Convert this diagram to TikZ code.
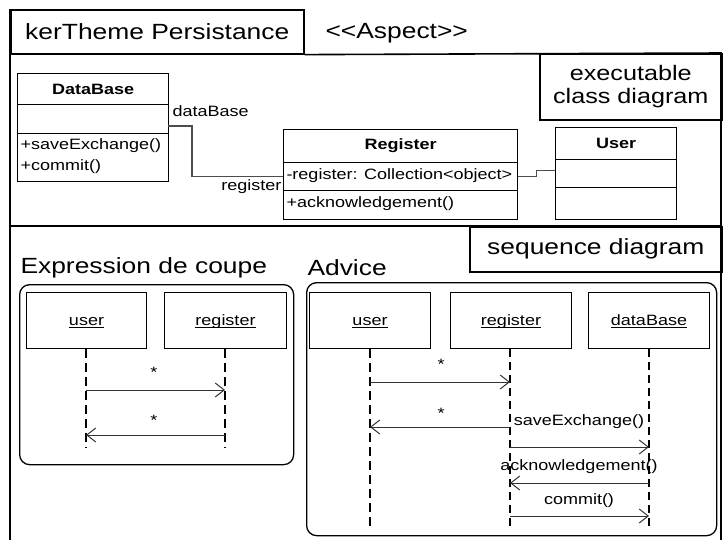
\documentclass[tikz,border=0pt]{standalone}
\usepackage{fontspec}
\setmainfont{Liberation Sans}[FakeStretch=1.2]
\usetikzlibrary{arrows.meta}
\newcommand{\fsz}[1]{\fontsize{#1}{#1}\selectfont}
\newcommand{\uln}[1]{\underline{\smash{#1}}}
\begin{document}
\begin{tikzpicture}[x=1pt,y=-1pt,line width=1pt,
  frameline/.style={line width=1.6pt},
  cbox/.style={draw,line width=1.1pt,anchor=north west,inner sep=0pt,font=\fsz{15}},
  txt/.style={inner sep=0pt,font=\fsz{15}},
  bigtxt/.style={inner sep=0pt,font=\fsz{22}},
  assoc/.style={draw=black!70,line width=1.1pt},
  objbox/.style={draw,line width=1pt,anchor=north west,minimum width=121pt,minimum height=56pt,inner sep=0pt,text height=11pt,text depth=1pt,font=\fsz{15}},
  lifethick/.style={line width=2.4pt,dash pattern=on 9pt off 5pt},
  lifethin/.style={line width=1.3pt,dash pattern=on 8pt off 5pt},
  msg/.style={draw=black!80,line width=1pt,-{Straight Barb[length=9pt,width=14pt]}},
  frag/.style={draw,line width=1.3pt,rounded corners=10pt}]
\useasboundingbox (0,0) rectangle (724,539);
% ---- outer frame
\node[draw,frameline,anchor=north west,minimum width=293pt,minimum height=44pt,inner sep=0pt,font=\fsz{22}] (title) at (10,9) {kerTheme Persistance};
\node[bigtxt,anchor=west] (aspect) at (325,33) {<{}<Aspect>{}>};
\coordinate (frTR) at (721,53);
\coordinate (frBL) at (10,541);
\coordinate (frBR) at (721,541);
\draw[frameline] (title.north west) -- (frBL);
\draw[frameline] (title.south east) -- (frTR) -- (frBR);
\coordinate (secL) at (10,226);
\coordinate (secR) at (721,226);
\draw[frameline] (secL) -- (secR);
\node[draw,frameline,anchor=north west,minimum width=182pt,minimum height=66pt,inner sep=0pt,align=center,font=\fontsize{21}{23.5}\selectfont] (exec) at (539,53) {executable\\class diagram};
\node[draw,frameline,anchor=north west,minimum width=252pt,minimum height=45pt,inner sep=0pt,font=\fsz{22}] (seqd) at (469,226) {sequence diagram};
% ---- class diagram
\node[cbox,minimum width=151pt,minimum height=31pt,font=\fsz{15}\bfseries] (dbh) at (17,73) {DataBase};
\node[cbox,minimum width=151pt,minimum height=29pt] (dba) at (17,104) {};
\node[cbox,minimum width=151pt,minimum height=48pt] (dbo) at (17,133) {};
\node[txt,anchor=west] (dbo1) at (20,146) {+saveExchange()};
\node[txt,anchor=west] (dbo2) at (20,167) {+commit()};
\node[cbox,minimum width=234pt,minimum height=33pt,font=\fsz{15}\bfseries] (rgh) at (283,129) {Register};
\node[cbox,minimum width=234pt,minimum height=28pt] (rga) at (283,162) {};
\node[cbox,minimum width=234pt,minimum height=29pt] (rgo) at (283,190) {};
\node[txt,anchor=west] (rga1) at (286,176) {-register: Collection<object>};
\node[txt,anchor=west] (rgo1) at (286,204) {+acknowledgement()};
\node[cbox,minimum width=121pt,minimum height=32pt,font=\fsz{15}\bfseries] (uh) at (555,127) {User};
\node[cbox,minimum width=121pt,minimum height=28pt] (ua) at (555,159) {};
\node[cbox,minimum width=121pt,minimum height=32pt] (uo) at (555,187) {};
\coordinate (dbEnd) at (168,126);
\draw[assoc] (dbEnd) -- ++(24,0) |- (rga.west);
\node[txt,anchor=west] (lblDb) at (172,111) {dataBase};
\node[txt,anchor=east] (lblRg) at (282,187) {register};
\draw[assoc] (rga.east) -- ++(18,0) |- ([yshift=3pt]ua.west);
% ---- sequence diagrams
\node[bigtxt,anchor=west] (expr) at (20,268) {Expression de coupe};
\node[bigtxt,anchor=west] (adv) at (307,268) {Advice};
\node[frag,minimum width=274pt,minimum height=180pt,anchor=north west,inner sep=0pt] (fragL) at (19,284) {};
\node[frag,minimum width=410pt,minimum height=253pt,anchor=north west,inner sep=0pt] (fragR) at (306,282) {};
% left
\node[objbox,minimum width=120pt] (lu) at (26,292) {\uln{user}};
\node[objbox,minimum width=122pt] (lr) at (164,292) {\uln{register}};
\coordinate (luEnd) at (86,448);
\coordinate (lrEnd) at (225,448);
\draw[lifethick] (lu.south -| luEnd) -- (luEnd);
\draw[lifethick] (lr.south -| lrEnd) -- (lrEnd);
\draw[msg] (luEnd |- 0,390) -- (lrEnd |- 0,390);
\node[txt] (ls1) at (154,372) {*};
\draw[msg] (lrEnd |- 0,435) -- (luEnd |- 0,435);
\node[txt] (ls2) at (154,420) {*};
% right
\node[objbox] (ru) at (309,292) {\uln{user}};
\node[objbox] (rr) at (450,292) {\uln{register}};
\node[objbox] (rd) at (588,292) {\uln{dataBase}};
\coordinate (ruEnd) at (370,527);
\coordinate (rrEnd) at (510,527);
\coordinate (rdEnd) at (649,527);
\draw[line width=2.2pt,dash pattern=on 9pt off 5pt] (ru.south -| ruEnd) -- (ruEnd);
\draw[lifethin] (rr.south -| rrEnd) -- (rrEnd);
\draw[line width=1.6pt,dash pattern=on 8pt off 5pt] (rd.south -| rdEnd) -- (rdEnd);
\draw[msg] (ruEnd |- 0,382) -- (rrEnd |- 0,382);
\node[txt] (rs1) at (441,364) {*};
\draw[msg] (rrEnd |- 0,427) -- (ruEnd |- 0,427);
\node[txt] (rs2) at (441,413) {*};
\node[txt] (m1) at (579,422) {saveExchange()};
\draw[msg] (rrEnd |- 0,447) -- (rdEnd |- 0,447);
\node[txt] (m2) at (579,467) {acknowledgement()};
\draw[msg] (rdEnd |- 0,483) -- (rrEnd |- 0,483);
\node[txt] (m3) at (579,501) {commit()};
\draw[msg] (rrEnd |- 0,516) -- (rdEnd |- 0,516);
\end{tikzpicture}
\end{document}
